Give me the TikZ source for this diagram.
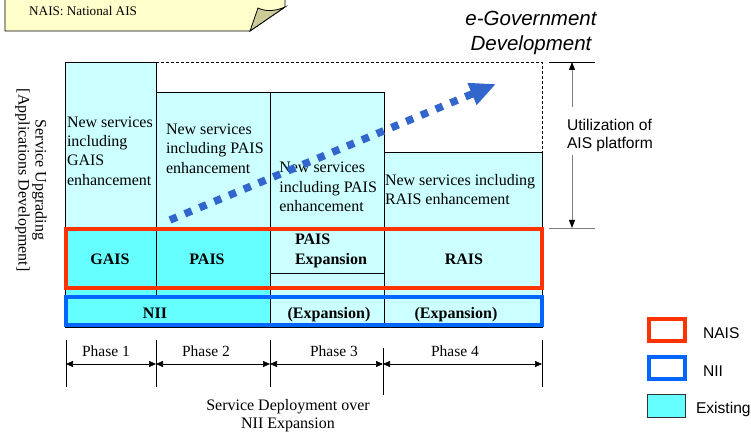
\documentclass[tikz,border=0pt]{standalone}
\usepackage{fontspec}
\setmainfont{Liberation Serif}
\newfontfamily\arialf{Liberation Sans}
\usetikzlibrary{arrows.meta,fit}
\definecolor{lcyan}{HTML}{CCFFFF}
\definecolor{bcyan}{HTML}{66FFFF}
\definecolor{naisred}{HTML}{FF3300}
\definecolor{niiblue}{HTML}{0066FF}
\definecolor{arrblue}{HTML}{3366CC}
\definecolor{noteyel}{HTML}{FFFFCC}
\definecolor{curlcol}{HTML}{CCCC99}
\begin{document}
\begin{tikzpicture}[x=1pt,y=-1pt,
  fillbox/.style={inner sep=0pt, outer sep=0pt, draw=none},
  cellbox/.style={draw=black, line width=0.7pt, inner sep=0pt, outer sep=0pt},
  txt/.style={font=\fontsize{16}{19.3}\selectfont, inner sep=0pt, outer sep=0pt, align=left},
  boldtxt/.style={font=\fontsize{16}{20}\selectfont\bfseries, inner sep=0pt, outer sep=0pt},
  phasetxt/.style={font=\fontsize{15.5}{18}\selectfont, inner sep=0pt, outer sep=0pt},
  sanstxt/.style={font=\arialf\fontsize{15.6}{18.3}\selectfont, inner sep=0pt, outer sep=0pt},
  thickred/.style={draw=naisred, line width=4pt, inner sep=0pt, outer sep=0pt},
  thickblue/.style={draw=niiblue, line width=4pt, inner sep=0pt, outer sep=0pt},
  dimline/.style={line width=0.8pt},
  smalltip/.style={{Triangle[length=7pt,width=6pt]}-{Triangle[length=7pt,width=6pt]}},
]
\useasboundingbox (0,0) rectangle (751,435);

% note box
\draw[fill=noteyel, line width=0.8pt] (5,-5) -- (5,31) -- (250,31) -- (285,7) -- (285,-5);
\draw[fill=curlcol, line width=0.8pt] (250,31) -- (258,8) .. controls (266,12) and (276,11) .. (285,7) -- cycle;
\node[font=\fontsize{13.2}{15}\selectfont, inner sep=0pt, anchor=base west] (note) at (29,16) {NAIS: National AIS};

% fills
\node[fillbox, fill=lcyan, fit={(65,62)(156,228)}] (c1u) {};
\node[fillbox, fill=lcyan, fit={(156,92)(270,228)}] (c2u) {};
\node[fillbox, fill=bcyan, fit={(65,228)(270,327)}] (exist) {};
\node[fillbox, fill=lcyan, fit={(270,92)(384,327)}] (c3) {};
\node[fillbox, fill=lcyan, fit={(384,152)(542,327)}] (c4) {};
% borders
\node[cellbox, fit={(65,62)(156,296)}] (b1) {};
\node[cellbox, fit={(156,92)(270,296)}] (b2) {};
\node[cellbox, fit={(65,296)(270,327)}] (bnii) {};
\node[cellbox, fit={(270,92)(384,273)}] (b3) {};
\node[cellbox, fit={(270,273)(384,327)}] (b3l) {};
\node[cellbox, fit={(384,152)(542,327)}] (b4) {};

% dashed outline
\coordinate (dtr) at (542,62);
\draw[line width=0.7pt, dash pattern=on 3pt off 2pt] (b1.north east) -- (dtr) -- (b4.north east);

% texts in columns
\node[txt, anchor=north west] (t1) at (67,116.6) {New services\\including\\GAIS\\enhancement};
\node[txt, anchor=north west] (t2) at (166,124.1) {New services\\including PAIS\\enhancement};
\node[txt, anchor=north west] (t3) at (279.3,162.4) {New services\\including PAIS\\enhancement};
\node[txt, anchor=north west] (t4) at (385,174.1) {New services including\\RAIS enhancement};

% bold labels
\node[boldtxt] (gais) at (110,259.7) {GAIS};
\node[boldtxt] (pais) at (207,259.7) {PAIS};
\node[boldtxt, anchor=north west, align=left] (paisx) at (295,234.2) {PAIS\\Expansion};
\node[boldtxt] (rais) at (464,259.7) {RAIS};
\node[boldtxt] (nii) at (155,313) {NII};
\node[boldtxt] (exp3) at (329,314.3) {(Expansion)};
\node[boldtxt] (exp4) at (456,314.3) {(Expansion)};

% NAIS and NII frames
\node[thickred, fit={(65.5,228.7)(542,288)}] (nais) {};
\node[thickblue, fit={(65.5,296.7)(542,325.3)}] (niibox) {};

% dotted arrow
\coordinate (ds) at (170,220);
\coordinate (de) at (496,84);
\draw[arrblue, line width=7.5pt, dash pattern=on 7.5pt off 8.5pt, -{Triangle[length=26pt,width=22pt]}] (ds) -- (de);

% left label
\node[font=\fontsize{16}{17}\selectfont, inner sep=0pt, align=center, rotate=-90] (ylab) at (31,180) {Service Upgrading\\{[}Applications Development{]}};

% e-Government
\node[font=\arialf\itshape\fontsize{20.5}{25}\selectfont, inner sep=0pt, align=center, anchor=north] (egov) at (531,11.3) {e-Government\\Development};

% utilization dimension
\coordinate (ut1) at (549,62); \coordinate (ut2) at (595,62);
\coordinate (ub1) at (549,228); \coordinate (ub2) at (595,228);
\draw[dimline, black] (ut1) -- (ut2);
\draw[dimline, gray] (ub1) -- (ub2);
\node[sanstxt, anchor=north west, align=left] (util) at (567,118.7) {Utilization of\\AIS platform};
\coordinate (ua) at (572,107); \coordinate (uat) at (572,62);
\coordinate (ub) at (572,155); \coordinate (ubt) at (572,228);
\draw[dimline, gray, -{Triangle[length=8pt,width=6pt,color=black]}] (ua) -- (uat);
\draw[dimline, gray, -{Triangle[length=8pt,width=6pt,color=black]}] (ub) -- (ubt);

% phases
\coordinate (k0t) at (66,340); \coordinate (k0b) at (66,387);
\coordinate (k1t) at (156,340); \coordinate (k1b) at (156,387);
\coordinate (k2t) at (270,340); \coordinate (k2b) at (270,387);
\coordinate (k3t) at (383,348); \coordinate (k3b) at (383,395);
\coordinate (k4t) at (542,340); \coordinate (k4b) at (542,387);
\foreach \i in {0,...,4} \draw[line width=0.7pt] (k\i t) -- (k\i b);
\coordinate (a0) at (66,364); \coordinate (a1) at (156,364);
\coordinate (a2) at (270,364); \coordinate (a3) at (383,364);
\coordinate (a4) at (542,364);
\draw[line width=0.7pt, smalltip] (a0) -- (a1);
\draw[line width=0.7pt, smalltip] (a1) -- (a2);
\draw[line width=0.7pt, smalltip] (a2) -- (a3);
\draw[line width=0.7pt, smalltip] (a3) -- (a4);
\node[phasetxt, anchor=base] (ph1) at (106,356) {Phase 1};
\node[phasetxt, anchor=base] (ph2) at (206,356) {Phase 2};
\node[phasetxt, anchor=base] (ph3) at (334,356) {Phase 3};
\node[phasetxt, anchor=base] (ph4) at (455,356) {Phase 4};
\node[font=\fontsize{16}{18.3}\selectfont, inner sep=0pt, align=center, anchor=north] (sdep) at (288,399) {Service Deployment over\\NII Expansion};

% legend
\node[thickred, fit={(649,319)(685,341)}] (lgnais) {};
\node[thickblue, fit={(649,357)(685,379)}] (lgnii) {};
\node[draw=black!80, line width=0.8pt, fill=bcyan, inner sep=0pt, fit={(647,394)(685,417)}] (lgex) {};
\node[sanstxt, anchor=base west] (lgt1) at (703,338.3) {NAIS};
\node[sanstxt, anchor=base west] (lgt2) at (703,376) {NII};
\node[sanstxt, anchor=base west] (lgt3) at (696,413.3) {Existing};
\end{tikzpicture}
\end{document}
